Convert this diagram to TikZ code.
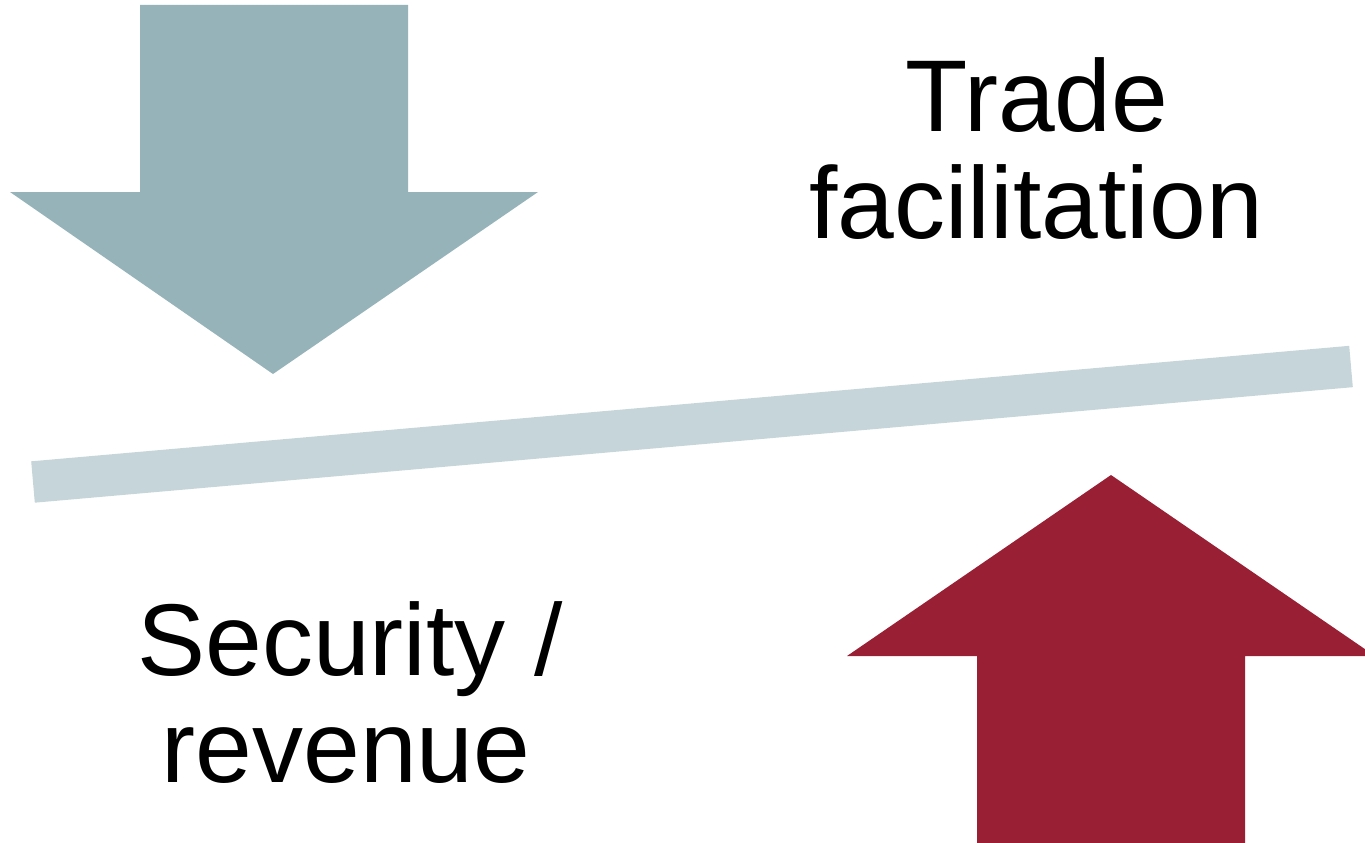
\documentclass[tikz,border=0pt]{standalone}
\usepackage{fontspec}
\setmainfont{Liberation Sans}
\definecolor{downgray}{HTML}{96B3B9}
\definecolor{beamgray}{HTML}{C6D5D9}
\definecolor{upred}{HTML}{981F34}
\begin{document}
\begin{tikzpicture}[x=1pt,y=-1pt,
  lbl/.style={inner sep=0pt, anchor=base, font=\fontsize{102}{107}\selectfont},
  beam/.style={draw=beamgray, line width=41.5pt, line cap=butt}]
\useasboundingbox (0,0) rectangle (1365,843);
% block arrow pointing down
\fill[downgray] (140,5) -- (408,5) -- (408,192) -- (538,192) -- (273,374)
  -- (10,192) -- (140,192) -- cycle;
% block arrow pointing up
\fill[upred] (977,843) -- (977,656) -- (847,656) -- (1111,475) -- (1375,656)
  -- (1245,656) -- (1245,843) -- cycle;
% tilted balance beam
\coordinate (beamL) at (33,482);
\coordinate (beamR) at (1351,366.5);
\draw[beam] (beamL) -- (beamR);
% labels
\node[lbl] (trade) at (1037,131) {Trade};
\node[lbl] (facil) at (1036,238) {facilitation};
\node[lbl] (secur) at (350,675) {Security /};
\node[lbl] (reven) at (346,782) {revenue};
\end{tikzpicture}
\end{document}
